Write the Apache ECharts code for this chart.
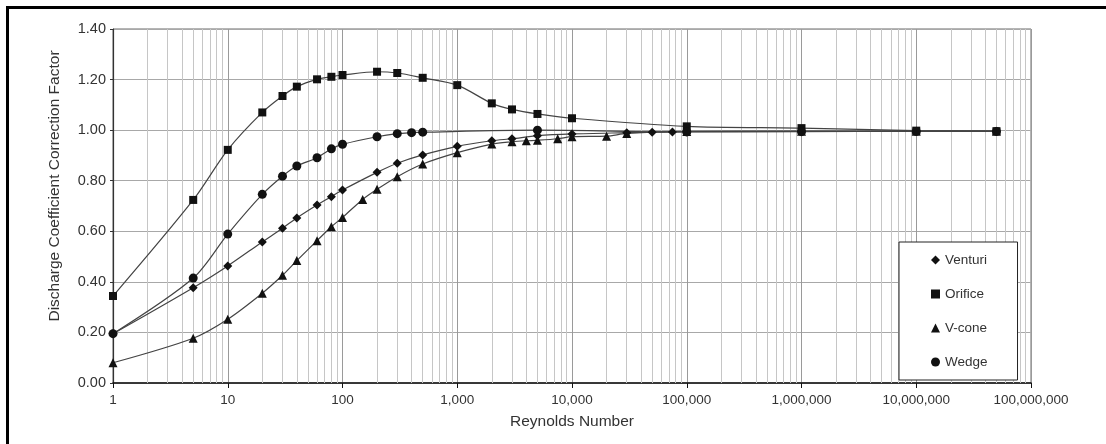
<!DOCTYPE html>
<html>
<head>
<meta charset="utf-8">
<script src="https://cdn.jsdelivr.net/npm/echarts@6/dist/echarts.min.js"></script>
<style>
html,body{margin:0;padding:0;background:#fff;}
#chart{width:1106px;height:444px;}
</style>
</head>
<body>
<div id="chart"></div>
<script>
// ---- data ----
const seriesNames = ['Venturi', 'Orifice', 'V-cone', 'Wedge'];

const venturiRe = [1, 5, 10, 20, 30, 40, 60, 80, 100, 200, 300, 500, 1000, 2000, 3000, 5000, 10000, 30000, 50000, 75000, 100000, 1000000, 10000000, 50000000];
const venturiCf = [0.195, 0.377, 0.463, 0.558, 0.612, 0.653, 0.704, 0.737, 0.763, 0.833, 0.869, 0.902, 0.936, 0.958, 0.966, 0.978, 0.985, 0.990, 0.992, 0.993, 0.994, 0.995, 0.996, 0.996];

const orificeRe = [1, 5, 10, 20, 30, 40, 60, 80, 100, 200, 300, 500, 1000, 2000, 3000, 5000, 10000, 100000, 1000000, 10000000, 50000000];
const orificeCf = [0.344, 0.724, 0.922, 1.070, 1.135, 1.172, 1.201, 1.211, 1.218, 1.231, 1.226, 1.207, 1.178, 1.106, 1.082, 1.064, 1.047, 1.015, 1.008, 0.998, 0.996];

const vconeRe = [1, 5, 10, 20, 30, 40, 60, 80, 100, 150, 200, 300, 500, 1000, 2000, 3000, 4000, 5000, 7500, 10000, 20000, 30000, 100000, 1000000, 10000000, 50000000];
const vconeCf = [0.080, 0.177, 0.252, 0.355, 0.426, 0.484, 0.563, 0.618, 0.655, 0.726, 0.766, 0.816, 0.866, 0.911, 0.945, 0.954, 0.958, 0.960, 0.966, 0.974, 0.976, 0.987, 0.995, 0.996, 0.996, 0.996];

const wedgeRe = [1, 5, 10, 20, 30, 40, 60, 80, 100, 200, 300, 400, 500, 5000, 100000, 1000000, 10000000, 50000000];
const wedgeCf = [0.195, 0.415, 0.589, 0.746, 0.818, 0.858, 0.891, 0.926, 0.944, 0.974, 0.986, 0.990, 0.992, 1.000, 0.993, 0.994, 0.995, 0.995];

const yTicks = [0, 0.2, 0.4, 0.6, 0.8, 1.0, 1.2, 1.4];
const xMin = 1, xMax = 100000000;
const minorMultipliers = [2, 3, 4, 5, 6, 7, 8, 9];
const decadeStarts = [1, 10, 100, 1000, 10000, 100000, 1000000, 10000000];

// ---- build ----
const zip = (xs, ys) => xs.map((x, i) => [x, ys[i]]);
const minorLines = [];
decadeStarts.forEach(d => minorMultipliers.forEach(m => minorLines.push({ xAxis: d * m })));

const FONT = 'Liberation Sans, Arial, sans-serif';
const symbols = { 'Venturi': 'diamond', 'Orifice': 'rect', 'V-cone': 'triangle', 'Wedge': 'circle' };
const sizes = { 'Venturi': 9, 'Orifice': 8, 'V-cone': 9, 'Wedge': 9 };

function mkSeries(name, data) {
  return {
    name: name,
    type: 'line',
    data: data,
    smooth: 0.3,
    symbol: symbols[name],
    symbolSize: sizes[name],
    showAllSymbol: true,
    lineStyle: { color: '#444', width: 1.2 },
    itemStyle: { color: '#111' },
    z: 10,
    animation: false
  };
}

const chart = echarts.init(document.getElementById('chart'), null, { renderer: 'canvas' });
chart.setOption({
  backgroundColor: '#fff',
  animation: false,
  graphic: [{
    type: 'rect',
    shape: { x: 7.5, y: 7.5, width: 1300, height: 700 },
    style: { fill: 'none', stroke: '#000', lineWidth: 3 },
    silent: true
  }],
  grid: {
    left: 113, right: 75, top: 29, bottom: 61,
    show: true, borderColor: '#6a6a6a', borderWidth: 1, backgroundColor: 'transparent'
  },
  legend: {
    orient: 'vertical',
    left: 899, top: 242,
    padding: [11, 30, 11, 32],
    itemGap: 20,
    itemWidth: 9, itemHeight: 9,
    backgroundColor: '#fff',
    borderColor: '#222', borderWidth: 1,
    z: 20,
    textStyle: { fontFamily: FONT, fontSize: 13.5, color: '#333' },
    data: seriesNames.map(n => ({ name: n, icon: symbols[n], itemStyle: { color: '#111' } }))
  },
  xAxis: {
    type: 'log',
    logBase: 10,
    min: xMin, max: xMax,
    splitNumber: 8,
    name: 'Reynolds Number',
    nameLocation: 'middle',
    nameGap: 31,
    nameTextStyle: { fontFamily: FONT, fontSize: 15.5, color: '#333' },
    axisLine: { lineStyle: { color: '#111', width: 1.5 } },
    axisTick: { show: true, length: 5, lineStyle: { color: '#111' } },
    axisLabel: {
      fontFamily: FONT, fontSize: 13.5, color: '#333', margin: 10,
      formatter: v => Math.round(v).toLocaleString('en-US')
    },
    splitLine: { show: true, lineStyle: { color: '#9a9a9a', width: 1 } }
  },
  yAxis: {
    type: 'value',
    min: 0, max: 1.4, interval: 0.2,
    name: 'Discharge Coefficient Correction Factor',
    nameLocation: 'middle',
    nameGap: 50,
    nameTextStyle: { fontFamily: FONT, fontSize: 15.5, color: '#333', padding: [0, 0, 0, 40] },
    axisLine: { show: true, lineStyle: { color: '#333', width: 1.2 } },
    axisTick: { show: true, length: 3, lineStyle: { color: '#333' } },
    axisLabel: {
      fontFamily: FONT, fontSize: 14.5, color: '#333', margin: 7,
      formatter: v => v.toFixed(2)
    },
    splitLine: { show: true, lineStyle: { color: '#a8a8a8', width: 1 } }
  },
  series: [
    {
      name: '__minor',
      type: 'line',
      data: [],
      silent: true,
      z: 1,
      markLine: {
        silent: true,
        z: 1,
        symbol: ['none', 'none'],
        label: { show: false },
        lineStyle: { color: '#c6c6c6', width: 1, type: 'solid' },
        animation: false,
        data: minorLines
      }
    },
    mkSeries('Venturi', zip(venturiRe, venturiCf)),
    mkSeries('Orifice', zip(orificeRe, orificeCf)),
    mkSeries('V-cone', zip(vconeRe, vconeCf)),
    mkSeries('Wedge', zip(wedgeRe, wedgeCf))
  ]
});
</script>
</body>
</html>
